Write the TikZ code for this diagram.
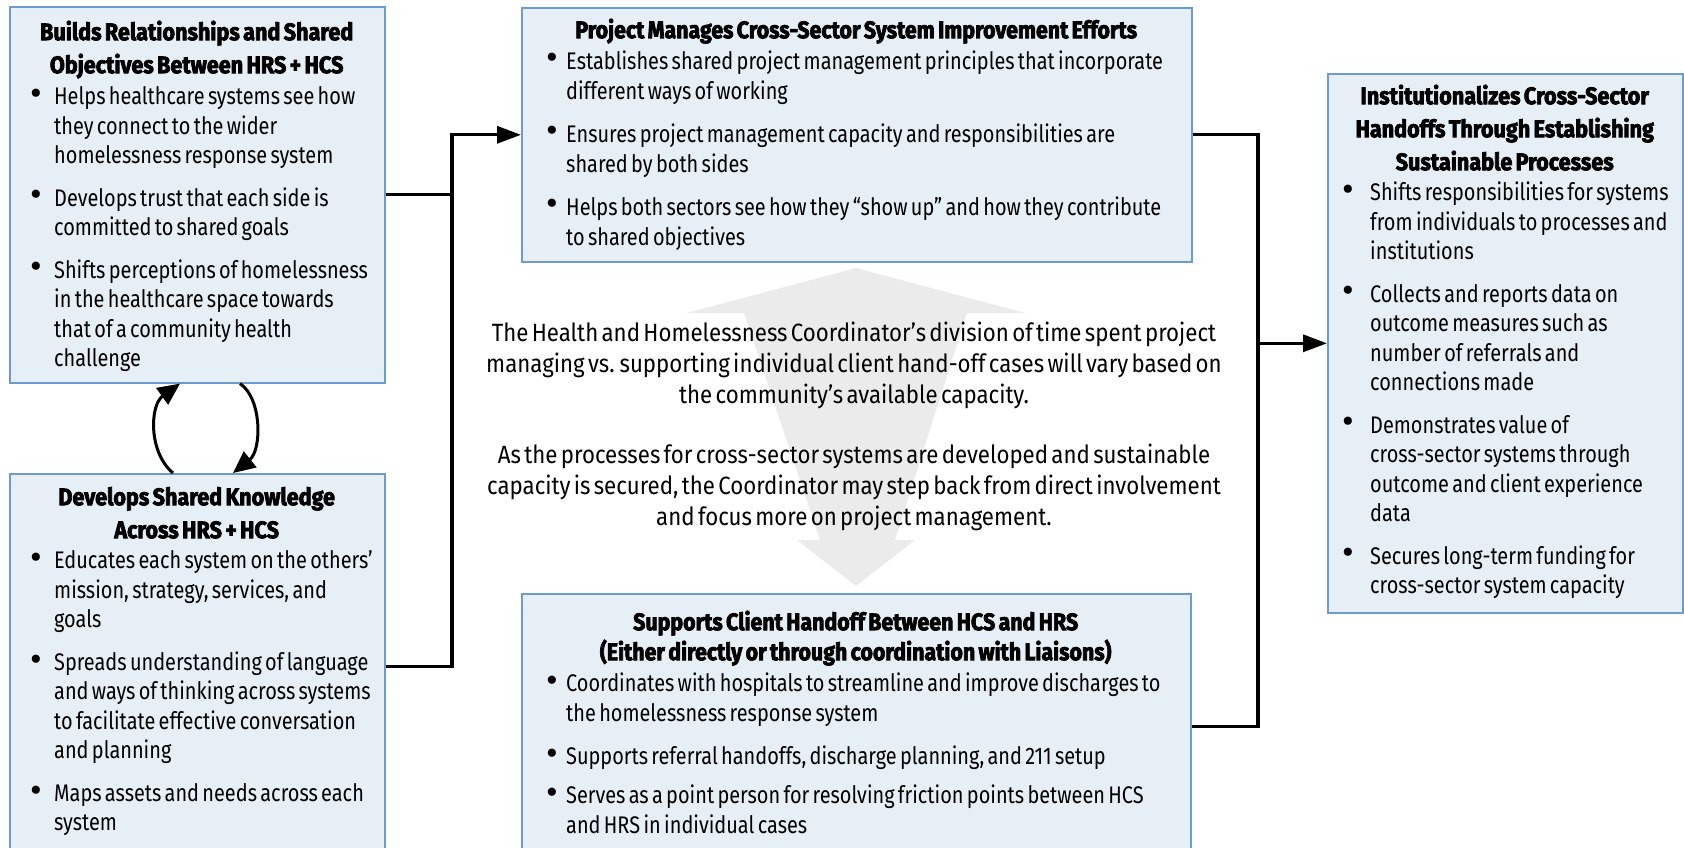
\documentclass[tikz,border=0pt]{standalone}
\usepackage{fontspec}
\setmainfont{Fira Sans}
\newfontfamily\fsSide{Fira Sans}[FakeStretch=0.83]
\newfontfamily\fsMid{Fira Sans}[FakeStretch=0.83]
\newfontfamily\fsNote{Fira Sans}[FakeStretch=0.89]
\newfontfamily\ftSide{Fira Sans}[FakeStretch=0.90, FakeBold=2.8]
\newfontfamily\ftMid{Fira Sans}[FakeStretch=0.89, FakeBold=2.8]
\newfontfamily\bulfont{Fira Sans}
\usetikzlibrary{arrows.meta}
\definecolor{boxfill}{HTML}{E6EEF6}
\definecolor{boxline}{HTML}{6C9BD2}
\definecolor{arrowgray}{HTML}{EBEBEB}
\newlength\bhang
\newcommand\bul[1]{\par\begingroup\def\\{\hfil\break}\hangindent=\bhang\hangafter=1\noindent\makebox[\bhang][l]{\raisebox{-0.8pt}{\bulfont\scalebox{1.5}{\textbullet}}}#1\par\endgroup}
\newcommand\bgap{\vspace{13pt}}
\newcommand\sidetitle[1]{{\centering\ftSide\bfseries\fontsize{24}{33}\selectfont\strut #1\par}}
\newcommand\midtitle[1]{{\centering\ftMid\bfseries\fontsize{24}{30}\selectfont\strut #1\par}}
\tikzset{
  box/.style={draw=boxline, fill=boxfill, line width=1.6pt, anchor=north west, inner sep=0pt},
  content/.style={anchor=north west, inner sep=0pt, text width=#1},
  conn/.style={line width=3.3pt, draw=black, line join=miter},
  tipA/.style={-{Triangle[length=24pt,width=17pt]}},
  cyc/.style={line width=3pt, draw=black, -{Triangle[length=22pt,width=20pt]}},
}
\begin{document}
\begin{tikzpicture}[x=1pt,y=-1pt]
\useasboundingbox (0,0) rectangle (1684,848);
\clip (0,0) rectangle (1684,848);
\fill[white] (0,0) rectangle (1684,848);

% gray double arrow
\fill[arrowgray] (856,268) -- (1025,313) -- (967,313) -- (895,540) -- (915,540) -- (856,586)
  -- (797,540) -- (820,540) -- (744,313) -- (687,313) -- cycle;

% boxes
\node[box, minimum width=375pt, minimum height=376pt] (A) at (9,6) {};
\node[box, minimum width=375pt, minimum height=385pt] (B) at (9,473) {};
\node[box, minimum width=670pt, minimum height=254pt] (C) at (521,7) {};
\node[box, minimum width=669pt, minimum height=265pt] (D) at (521,593) {};
\node[box, minimum width=355pt, minimum height=539pt] (E) at (1327,73) {};

% connectors
\coordinate (jL) at (452,0);
\coordinate (jR) at (1258,0);
\draw[conn] (B.east) -| (jL |- C.west);
\draw[conn, tipA] (A.east) -- (A.east -| jL) |- (C.west);
\draw[conn] (C.east) -| (jR |- D.east) -- (D.east);
\draw[conn, tipA] (jR |- E.west) -- (E.west);

% cycle arrows
\draw[cyc] ([xshift=164pt]B.north west) .. controls (148,452) and (150,405) .. ([xshift=171pt]A.south west);
\draw[cyc] ([xshift=231pt]A.south west) .. controls (262,398) and (262,450) .. ([xshift=224pt]B.north west);

% box texts
\node[content=375pt] (tA) at (9,16.9) {%
\sidetitle{Builds Relationships and Shared\\ Objectives Between HRS + HCS}%
\vspace{2pt}%
{\raggedright\leftskip=21pt\fsSide\fontsize{24}{29.5}\selectfont\setlength\bhang{24pt}%
\bul{Helps healthcare systems see how\\ they connect to the wider\\ homelessness response system}\bgap
\bul{Develops trust that each side is\\ committed to shared goals}\bgap
\bul{Shifts perceptions of homelessness\\ in the healthcare space towards\\ that of a community health\\ challenge}}};

\node[content=375pt] (tB) at (9,481.9) {%
\sidetitle{Develops Shared Knowledge\\ Across HRS + HCS}%
\vspace{1pt}%
{\raggedright\leftskip=21pt\fsSide\fontsize{24}{29.5}\selectfont\setlength\bhang{24pt}%
\bul{Educates each system on the others’\\ mission, strategy, services, and\\ goals}\bgap
\bul{Spreads understanding of language\\ and ways of thinking across systems\\ to facilitate effective conversation\\ and planning}\bgap
\bul{Maps assets and needs across each\\ system}}};

\node[content=670pt] (tC) at (521,17) {%
\midtitle{Project Manages Cross-Sector System Improvement Efforts}%
\vspace{1pt}%
{\raggedright\leftskip=25pt\fsMid\fontsize{24}{30}\selectfont\setlength\bhang{20pt}%
\bul{Establishes shared project management principles that incorporate\\ different ways of working}\bgap
\bul{Ensures project management capacity and responsibilities are\\ shared by both sides}\bgap
\bul{Helps both sectors see how they “show up” and how they contribute\\ to shared objectives}}};

\node[content=669pt] (tD) at (521,609) {%
\midtitle{Supports Client Handoff Between HCS and HRS\\ (Either directly or through coordination with Liaisons)}%
\vspace{1pt}%
{\raggedright\leftskip=25pt\fsMid\fontsize{24}{30}\selectfont\setlength\bhang{20pt}%
\bul{Coordinates with hospitals to streamline and improve discharges to\\ the homelessness response system}\bgap
\bul{Supports referral handoffs, discharge planning, and 211 setup}\vspace{9pt}
\bul{Serves as a point person for resolving friction points between HCS\\ and HRS in individual cases}}};

\node[content=355pt] (tE) at (1327,80.9) {%
\sidetitle{Institutionalizes Cross-Sector\\ Handoffs Through Establishing\\ Sustainable Processes}%
\vspace{1pt}%
{\raggedright\leftskip=15pt\fsSide\fontsize{24}{29.5}\selectfont\setlength\bhang{28pt}%
\bul{Shifts responsibilities for systems\\ from individuals to processes and\\ institutions}\bgap
\bul{Collects and reports data on\\ outcome measures such as\\ number of referrals and\\ connections made}\bgap
\bul{Demonstrates value of\\ cross-sector systems through\\ outcome and client experience\\ data}\bgap
\bul{Secures long-term funding for\\ cross-sector system capacity}}};

% center note
\node[anchor=north, inner sep=0pt, text width=800pt] (note) at (854,319.3) {%
{\centering\fsNote\fontsize{25}{31}\selectfont\strut The Health and Homelessness Coordinator’s division of time spent project\\
managing vs. supporting individual client hand-off cases will vary based on\\
the community’s available capacity.\par
\vspace{29pt}
As the processes for cross-sector systems are developed and sustainable\\
capacity is secured, the Coordinator may step back from direct involvement\\
and focus more on project management.\par}};
\end{tikzpicture}
\end{document}
